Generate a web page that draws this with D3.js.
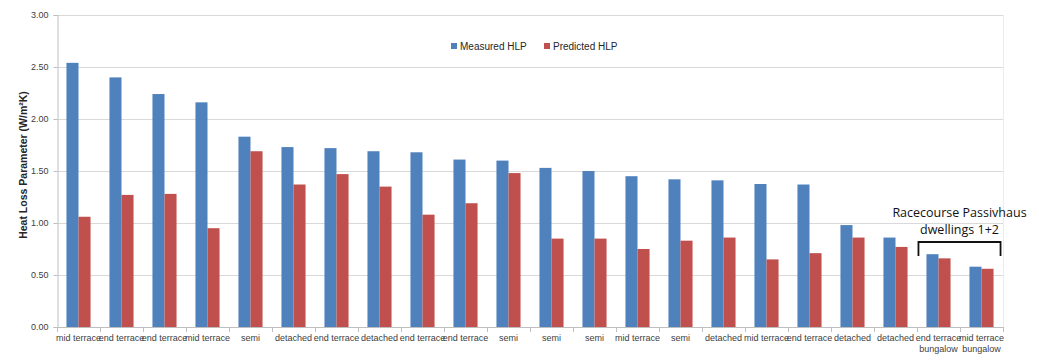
<!DOCTYPE html>
<html>
<head>
<meta charset="utf-8">
<script src="https://cdn.jsdelivr.net/npm/d3@7"></script>
<style>
  html, body { margin: 0; padding: 0; background: #fff; }
  svg { display: block; font-family: "Liberation Sans", Arial, sans-serif; }
</style>
</head>
<body>
<svg id="chart" width="1039" height="364"></svg>
<script>
const categories = [
  "mid terrace", "end terrace", "end terrace", "mid terrace", "semi", "detached",
  "end terrace", "detached", "end terrace", "end terrace", "semi", "semi",
  "semi", "mid terrace", "semi", "detached", "mid terrace", "end terrace",
  "detached", "detached", "end terrace\nbungalow", "mid terrace\nbungalow"
];
const measuredHLP = [2.54, 2.40, 2.24, 2.16, 1.83, 1.73, 1.72, 1.69, 1.68, 1.61, 1.60, 1.53,
                     1.50, 1.45, 1.42, 1.41, 1.375, 1.37, 0.98, 0.86, 0.70, 0.58];
const predictedHLP = [1.06, 1.27, 1.28, 0.95, 1.69, 1.37, 1.47, 1.35, 1.08, 1.19, 1.48, 0.85,
                      0.85, 0.75, 0.83, 0.86, 0.65, 0.71, 0.86, 0.77, 0.66, 0.56];
const seriesNames = ["Measured HLP", "Predicted HLP"];
const seriesColors = ["#4F81BD", "#C0504D"];
const yTicks = [0, 0.5, 1.0, 1.5, 2.0, 2.5, 3.0];
const yTitle = "Heat Loss Parameter (W/m²K)";
const annotationLines = ["Racecourse Passivhaus", "dwellings 1+2"];
const annotatedCategories = [20, 21];

(function () {
const svg = d3.select("#chart");
const pLeft = 57, pRight = 1003, pTop = 15, pBottom = 327;

const x0 = d3.scaleBand()
  .domain(d3.range(categories.length))
  .range([pLeft, pRight])
  .paddingInner(0.44)
  .paddingOuter(0.22);
const x1 = d3.scaleBand()
  .domain(d3.range(seriesNames.length))
  .range([0, x0.bandwidth()]);
const y = d3.scaleLinear().domain([0, 3]).range([pBottom, pTop]);

// gridlines
svg.append("g").selectAll("line").data(yTicks.filter(d => d > 0)).join("line")
  .attr("x1", pLeft).attr("x2", pRight)
  .attr("y1", d => Math.round(y(d)) + 0.5).attr("y2", d => Math.round(y(d)) + 0.5)
  .attr("stroke", "#d9d9d9").attr("stroke-width", 1);
svg.append("line").attr("x1", pRight + 0.5).attr("x2", pRight + 0.5)
  .attr("y1", pTop).attr("y2", pBottom).attr("stroke", "#ececec");

// bars
const data = categories.map((c, i) => [measuredHLP[i], predictedHLP[i]]);
const groups = svg.append("g").selectAll("g").data(data).join("g")
  .attr("transform", (d, i) => `translate(${x0(i)},0)`);
groups.selectAll("rect").data(d => d.map((v, s) => ({ v, s }))).join("rect")
  .attr("x", d => x1(d.s))
  .attr("width", x1.bandwidth())
  .attr("y", d => y(d.v))
  .attr("height", d => y(0) - y(d.v))
  .attr("fill", d => seriesColors[d.s]);

// y axis
const yAxis = d3.axisLeft(y).tickValues(yTicks).tickFormat(d3.format(".2f")).tickSize(4).tickPadding(5);
const yg = svg.append("g").attr("transform", `translate(${pLeft + 0.5},0)`).call(yAxis);
yg.select(".domain").attr("stroke", "#bfbfbf");
yg.selectAll(".tick line").attr("stroke", "#bfbfbf");
yg.selectAll(".tick text").attr("fill", "#404040").style("font-size", "9px")
  .style("font-family", "'Liberation Sans', Arial, sans-serif");

// x axis
const xBoundaries = d3.range(categories.length + 1).map(i => pLeft + i * x0.step());
const xg = svg.append("g");
xg.append("line").attr("x1", pLeft).attr("x2", pRight)
  .attr("y1", pBottom + 0.5).attr("y2", pBottom + 0.5).attr("stroke", "#bfbfbf");
xg.selectAll("line.tk").data(xBoundaries).join("line").attr("class", "tk")
  .attr("x1", d => Math.round(d) + 0.5).attr("x2", d => Math.round(d) + 0.5)
  .attr("y1", pBottom).attr("y2", pBottom + 5).attr("stroke", "#bfbfbf");
const labels = xg.selectAll("text").data(categories).join("text")
  .attr("x", (d, i) => x0(i) + x0.bandwidth() / 2)
  .attr("y", pBottom + 14)
  .attr("text-anchor", "middle")
  .attr("fill", "#404040")
  .style("font-size", "9px");
labels.each(function(d) {
  const parts = d.split("\n");
  const t = d3.select(this);
  parts.forEach((p, k) => {
    t.append("tspan").attr("x", t.attr("x")).attr("dy", k === 0 ? 0 : 11).text(p);
  });
});

// y title
svg.append("text")
  .attr("transform", `translate(27,165) rotate(-90)`)
  .attr("text-anchor", "middle")
  .attr("fill", "#262626")
  .style("font-size", "10.5px").style("font-weight", "bold")
  .text(yTitle);

// legend
const legend = svg.append("g");
const legendX = [451, 544];
seriesNames.forEach((n, i) => {
  legend.append("rect").attr("x", legendX[i]).attr("y", 43).attr("width", 6).attr("height", 6)
    .attr("fill", seriesColors[i]);
  legend.append("text").attr("x", legendX[i] + 9).attr("y", 50)
    .attr("fill", "#262626").style("font-size", "10px").text(n);
});

// annotation
const aLeft = x0(annotatedCategories[0]) - 8;
const aRight = x0(annotatedCategories[1]) + x0.bandwidth() + 7;
const aMid = (aLeft + aRight) / 2;
svg.append("path")
  .attr("d", `M${aLeft},256 V242 H${aRight} V256`)
  .attr("fill", "none").attr("stroke", "#111").attr("stroke-width", 1.8);
annotationLines.forEach((l, k) => {
  svg.append("text").attr("x", aMid).attr("y", 217 + k * 16.5)
    .attr("text-anchor", "middle").attr("fill", "#111")
    .style("font-size", "12.5px")
    .style("font-family", "'Open Sans', 'Noto Sans', sans-serif")
    .text(l);
});
})();
</script>
</body>
</html>
